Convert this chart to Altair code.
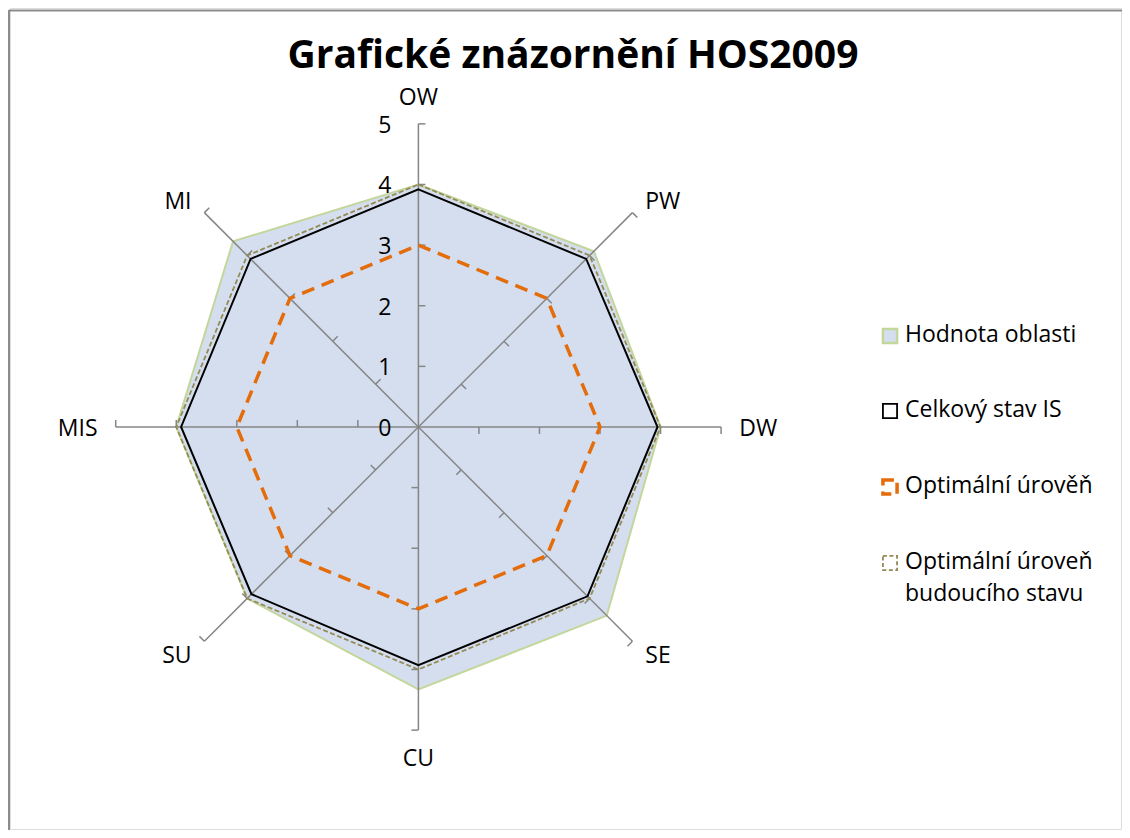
import altair as alt
import numpy as np
import pandas as pd

# ---------------- data ----------------
axes_names = ["OW", "PW", "DW", "SE", "CU", "SU", "MIS", "MI"]
hodnota_oblasti = [4.0, 4.1, 4.0, 4.4, 4.33, 4.0, 4.0, 4.33]
celkovy_stav = [3.92, 3.92, 3.95, 3.95, 3.93, 3.9, 3.92, 3.92]
optimalni = [3.0, 3.0, 3.0, 3.0, 3.0, 3.0, 3.0, 3.0]
budouci = [4.0, 4.0, 4.0, 4.0, 4.0, 4.0, 4.0, 4.0]
tick_values = [0, 1, 2, 3, 4, 5]
legend_labels = ["Hodnota oblasti", "Celkový stav IS", "Optimální úrověň",
                 "Optimální úroveň", "budoucího stavu"]
title_text = "Grafické znázornění HOS2009"

# ---------------- geometry ----------------
W, H = 1114, 822
PX = 60.7            # pixels per radar unit
CX, CY = 409.5, 419.5  # centre of radar inside plot area
xdom = [-CX / PX, (W - CX) / PX]
ydom = [-(H - CY) / PX, CY / PX]
RMAX = max(tick_values)
FONT = "Open Sans"
FS = 23


def ang(k):
    return np.pi / 2 - k * np.pi / 4


def polygon(name, vals):
    return pd.DataFrame({
        "series": name,
        "k": list(range(len(vals))),
        "x": [v * np.cos(ang(k)) for k, v in enumerate(vals)],
        "y": [v * np.sin(ang(k)) for k, v in enumerate(vals)],
    })


X = lambda f="x": alt.X(f"{f}:Q", scale=alt.Scale(domain=xdom, nice=False, zero=False), axis=None)
Y = lambda f="y": alt.Y(f"{f}:Q", scale=alt.Scale(domain=ydom, nice=False, zero=False), axis=None)


def radar_line(df, **kw):
    return alt.Chart(df).mark_line(interpolate="linear-closed", **kw).encode(
        x=X(), y=Y(), order=alt.Order("k:Q"))


fill_layer = radar_line(polygon("Hodnota oblasti", hodnota_oblasti),
                        fill="#D4DEEE", stroke="#C3D69B", strokeWidth=2)
black_layer = radar_line(polygon("Celkový stav IS", celkovy_stav),
                         stroke="#000000", strokeWidth=2)
orange_layer = radar_line(polygon("Optimální úrověň", optimalni),
                          stroke="#E46C0A", strokeWidth=3.5, strokeDash=[13, 8])
olive_layer = radar_line(polygon("Optimální úroveň budoucího stavu", budouci),
                         stroke="#948A54", strokeWidth=1.8, strokeDash=[5, 2.5])

# spokes
spokes = pd.DataFrame({
    "name": axes_names,
    "x0": 0.0, "y0": 0.0,
    "x": [RMAX * np.cos(ang(k)) for k in range(8)],
    "y": [RMAX * np.sin(ang(k)) for k in range(8)],
})
spoke_layer = alt.Chart(spokes).mark_rule(color="#868686", strokeWidth=1.5).encode(
    x=X("x0"), y=Y("y0"), x2="x:Q", y2="y:Q")

# tick marks (clockwise side) on each spoke
TL = 7 / PX
trows = []
for k in range(8):
    a = ang(k)
    for r in tick_values[1:]:
        px, py = r * np.cos(a), r * np.sin(a)
        trows.append({"x": px, "y": py,
                      "x2": px + TL * np.sin(a), "y2": py - TL * np.cos(a)})
tick_layer = alt.Chart(pd.DataFrame(trows)).mark_rule(color="#868686", strokeWidth=1.5).encode(
    x=X(), y=Y(), x2="x2:Q", y2="y2:Q")

# radial value labels
val_df = pd.DataFrame({"v": tick_values, "x": 0.0, "y": [float(v) for v in tick_values],
                       "t": [str(v) for v in tick_values]})
val_layer = alt.Chart(val_df).mark_text(align="right", baseline="middle", dx=-27, dy=2,
                                        font=FONT, fontSize=FS, color="#000000").encode(
    x=X(), y=Y(), text="t:N")

# category labels
LR = 5.3
lab_df = pd.DataFrame({
    "name": axes_names,
    "k": list(range(8)),
    "x": [LR * np.cos(ang(k)) for k in range(8)],
    "y": [LR * np.sin(ang(k)) for k in range(8)],
})


def lab(names, **kw):
    return alt.Chart(lab_df).transform_filter(
        alt.FieldOneOfPredicate(field="name", oneOf=names)
    ).mark_text(font=FONT, fontSize=FS, color="#000000", **kw).encode(
        x=X(), y=Y(), text="name:N")


lab_layers = [
    lab(["OW"], align="center", baseline="bottom", dy=4),
    lab(["CU"], align="center", baseline="top", dy=0),
    lab(["PW", "DW", "SE"], align="left", baseline="middle", dy=2),
    lab(["SU", "MIS", "MI"], align="right", baseline="middle", dy=2),
]

# title
title_layer = alt.Chart(alt.Data(values=[{"t": title_text}])).mark_text(
    font=FONT, fontSize=39, fontWeight="bold", align="center", baseline="alphabetic",
    color="#000000").encode(x=alt.value(563), y=alt.value(60), text="t:N")

# legend (drawn manually)
SYM_X = 880
TXT_X = 895
legend_rows_y = [327, 402, 478, 554, 586]
leg_text_df = pd.DataFrame({"t": legend_labels, "py": legend_rows_y})
leg_text = alt.Chart(leg_text_df).mark_text(
    font=FONT, fontSize=FS, align="left", baseline="middle", color="#000000"
).encode(x=alt.value(TXT_X), y=alt.Y("py:Q", scale=None), text="t:N")


def sym(row, **kw):
    return alt.Chart(alt.Data(values=[{"a": 1}])).mark_point(
        shape="square", size=200, **kw).encode(
        x=alt.value(SYM_X), y=alt.value(legend_rows_y[row] + 1))


leg_syms = [
    sym(0, filled=True, fill="#D4DEEE", stroke="#C3D69B", strokeWidth=2.5, opacity=1),
    sym(1, filled=False, stroke="#000000", strokeWidth=1.8, opacity=1),
    sym(2, filled=False, stroke="#E46C0A", strokeWidth=3.5, strokeDash=[11, 6], opacity=1),
    sym(3, filled=False, stroke="#948A54", strokeWidth=1.8, strokeDash=[4, 2.5], opacity=1),
]

# frame (left & top edges visible)
frame_left = alt.Chart(alt.Data(values=[{"a": 1}])).mark_rule(color="#8C8C8C", strokeWidth=2).encode(
    x=alt.value(-1), y=alt.value(2), y2=alt.value(H))
frame_top = alt.Chart(alt.Data(values=[{"a": 1}])).mark_rule(color="#8C8C8C", strokeWidth=2).encode(
    x=alt.value(-1), x2=alt.value(W), y=alt.value(2.5))

chart = alt.layer(
    fill_layer, spoke_layer, tick_layer, black_layer, orange_layer, olive_layer,
    val_layer, *lab_layers, title_layer, leg_text, *leg_syms, frame_left, frame_top
).properties(
    width=W, height=H, padding=0,
    autosize=alt.AutoSizeParams(type="fit", contains="padding"),
).configure_view(stroke=None).configure(background="#FFFFFF")

chart.save("out.html", embed_options={"renderer": "svg", "actions": False})
